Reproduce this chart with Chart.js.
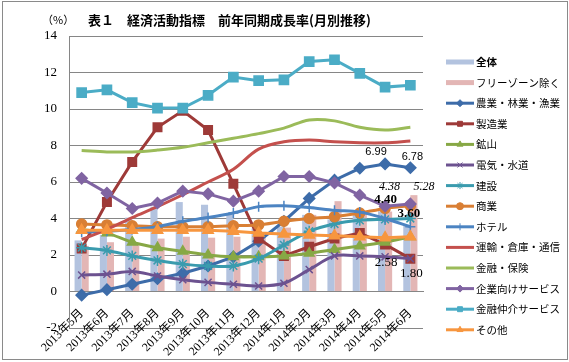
<!DOCTYPE html>
<html>
<head>
<meta charset="utf-8">
<script src="https://cdn.jsdelivr.net/npm/chart.js@4/dist/chart.umd.min.js"></script>
<style>
  html, body { margin: 0; padding: 0; background: #fff; }
</style>
</head>
<body>
<canvas id="chart" width="569" height="362"></canvas>
<script>
const months = ["2013年5月", "2013年6月", "2013年7月", "2013年8月", "2013年9月", "2013年10月", "2013年11月",
  "2013年12月", "2014年1月", "2014年2月", "2014年3月", "2014年4月", "2014年5月", "2014年6月"];

// bars
const total = [2.8, 3.1, 4.05, 4.65, 4.9, 4.75, 4.2, 3.45, 3.55, 4.2, 3.95, 4.2, 4.40, 3.60];
const exFreeZone = [2.5, 2.7, 2.6, 2.9, 3.0, 2.95, 3.0, 3.2, 3.5, 4.2, 4.95, 4.3, 4.38, 5.28];

// lines
const agriculture = [-0.2, 0.1, 0.4, 0.7, 1.0, 1.4, 1.9, 2.75, 3.85, 5.1, 6.1, 6.75, 6.99, 6.78];
const manufacturing = [2.35, 4.9, 7.1, 9.0, 9.9, 8.85, 5.9, 2.9, 1.95, 2.45, 2.9, 3.2, 2.58, 1.80];
const mining = [3.4, 3.2, 2.7, 2.4, 2.2, 2.0, 1.9, 1.9, 1.95, 2.1, 2.3, 2.5, 2.7, 3.0];
const utilities = [0.9, 0.95, 1.1, 0.85, 0.65, 0.5, 0.4, 0.3, 0.45, 1.2, 1.95, 1.95, 1.9, 1.8];
const construction = [2.4, 2.25, 1.95, 1.7, 1.5, 1.4, 1.4, 1.8, 2.55, 3.3, 3.7, 3.9, 3.95, 4.0];
const commerce = [3.7, 3.65, 3.6, 3.55, 3.55, 3.55, 3.6, 3.65, 3.85, 4.0, 4.1, 4.3, 4.55, 4.7];
const hotels = [3.25, 3.3, 3.4, 3.55, 3.85, 4.05, 4.3, 4.65, 4.7, 4.6, 4.45, 4.35, 4.0, 3.55];
const transport = [2.85, 3.4, 4.05, 4.65, 5.3, 6.0, 6.7, 7.8, 8.2, 8.3, 8.2, 8.15, 8.15, 8.25];
const financeInsurance = [7.72, 7.65, 7.65, 7.75, 7.9, 8.15, 8.4, 8.65, 8.95, 9.4, 9.35, 9.0, 8.85, 9.0];
const businessServices = [6.2, 5.4, 4.55, 4.85, 5.5, 5.35, 4.95, 5.5, 6.3, 6.3, 5.95, 5.28, 4.67, 4.8];
const finIntermediation = [10.9, 11.05, 10.35, 10.05, 10.05, 10.75, 11.75, 11.55, 11.6, 12.6, 12.7, 11.95, 11.2, 11.3];
const others = [3.35, 3.35, 3.35, 3.35, 3.35, 3.35, 3.3, 3.2, 3.15, 3.1, 3.05, 3.0, 2.95, 3.0];

const yTicks = [-2, 0, 2, 4, 6, 8, 10, 12, 14];

const barSeries = [
  { label: "全体", data: total, color: "#B3C3DF" },
  { label: "フリーゾーン除く", data: exFreeZone, color: "#E3B6B5" }
];

const lineSeries = [
  { label: "農業・林業・漁業", data: agriculture, color: "#3D6CA9", point: "rectRot", r: 5.5, t: 0 },
  { label: "製造業", data: manufacturing, color: "#9E3A38", point: "rect", r: 6, t: 0 },
  { label: "鉱山", data: mining, color: "#87A845", point: "triangle", r: 5.5, t: 0.3 },
  { label: "電気・水道", data: utilities, color: "#6C5290", point: "crossRot", r: 5, t: 0.3 },
  { label: "建設", data: construction, color: "#3A9BAE", point: "star", r: 5.5, t: 0.3 },
  { label: "商業", data: commerce, color: "#D97F34", point: "circle", r: 5, t: 0.2 },
  { label: "ホテル", data: hotels, color: "#4C84C2", point: "cross", r: 5, t: 0.3 },
  { label: "運輸・倉庫・通信", data: transport, color: "#C4504D", point: false, r: 0, t: 0.35 },
  { label: "金融・保険", data: financeInsurance, color: "#9BBB59", point: false, r: 0, t: 0.35 },
  { label: "企業向けサービス", data: businessServices, color: "#8064A2", point: "rectRot", r: 5.5, t: 0 },
  { label: "金融仲介サービス", data: finIntermediation, color: "#4BACC6", point: "rect", r: 6.5, t: 0 },
  { label: "その他", data: others, color: "#F7963F", point: "triangle", r: 6, t: 0 }
];

const datasets = barSeries.map(s => ({
  type: "bar",
  label: s.label,
  data: s.data,
  backgroundColor: s.color,
  borderWidth: 0,
  categoryPercentage: 0.56,
  barPercentage: 1.0,
  order: 100
})).concat(lineSeries.map((s, i) => ({
  type: "line",
  label: s.label,
  data: s.data,
  borderColor: s.color,
  backgroundColor: s.color,
  borderWidth: 3,
  tension: s.t,
  pointStyle: s.point || "circle",
  pointRadius: s.r,
  pointBorderWidth: 1.5,
  pointBorderColor: s.color,
  pointBackgroundColor: s.color,
  fill: false,
  order: 50 - i
})));

// value labels hung on data points (ds = dataset index, i = month index)
const pointLabels = [
  { text: "6.99", ds: 2, i: 12, dx: -9, dy: -12, font: '11px "Liberation Sans"' },
  { text: "6.78", ds: 2, i: 13, dx: 2, dy: -11, font: '11px "Liberation Sans"' },
  { text: "4.38", ds: 1, i: 12, dx: 1, dy: -25, font: 'italic 12px "Liberation Serif"' },
  { text: "5.28", ds: 1, i: 13, dx: 10, dy: -8, font: 'italic 12px "Liberation Serif"' },
  { text: "4.40", ds: 0, i: 12, dx: 4, dy: -12, font: 'bold 13px "Liberation Serif"' },
  { text: "3.60", ds: 0, i: 13, dx: 2, dy: -12, font: 'bold 13px "Liberation Serif"' },
  { text: "2.58", ds: 3, i: 12, dx: 1, dy: 18, font: '13px "Liberation Serif"' },
  { text: "1.80", ds: 3, i: 13, dx: 1, dy: 15, font: '13px "Liberation Serif"' }
];

const frame = {
  id: "frame",
  beforeDraw(chart) {
    const ctx = chart.ctx;
    ctx.save();
    ctx.fillStyle = "#fff";
    ctx.fillRect(0, 0, chart.width, chart.height);
    ctx.strokeStyle = "#8a8a8a";
    ctx.lineWidth = 1;
    ctx.strokeRect(2.5, 1.5, chart.width - 4, chart.height - 4);
    ctx.fillStyle = "#000";
    ctx.textBaseline = "middle";
    ctx.font = '11px "Noto Sans CJK JP"';
    ctx.fillText("（%）", 42, 20);
    ctx.font = 'bold 13px "Noto Sans CJK JP"';
    ctx.fillText("表１　経済活動指標　前年同期成長率(月別推移)", 88, 20);
    ctx.restore();
  },
  afterDatasetsDraw(chart) {
    const ctx = chart.ctx;
    ctx.save();
    ctx.fillStyle = "#000";
    ctx.textAlign = "center";
    ctx.textBaseline = "middle";
    pointLabels.forEach(l => {
      const el = chart.getDatasetMeta(l.ds).data[l.i];
      ctx.font = l.font;
      ctx.fillText(l.text, el.x + l.dx, el.y + l.dy);
    });
    ctx.restore();
  },
  afterDraw(chart) {
    // legend on the right, icon + label per dataset
    const ctx = chart.ctx;
    const x0 = chart.chartArea.right + 23;
    const y0 = 62, step = 20.6;
    ctx.save();
    ctx.textBaseline = "middle";
    chart.data.datasets.forEach((ds, k) => {
      const y = y0 + k * step;
      if (ds.type === "bar") {
        ctx.fillStyle = ds.backgroundColor;
        ctx.fillRect(x0, y - 2.5, 28, 5);
      } else {
        ctx.strokeStyle = ds.borderColor;
        ctx.lineWidth = 3;
        ctx.beginPath();
        ctx.moveTo(x0, y);
        ctx.lineTo(x0 + 28, y);
        ctx.stroke();
        if (ds.pointRadius > 0) {
          ctx.fillStyle = ds.borderColor;
          ctx.lineWidth = 1;
          Chart.helpers.drawPoint(ctx, { pointStyle: ds.pointStyle, radius: 3.5, borderWidth: 1, rotation: 0 }, x0 + 14, y);
        }
      }
      ctx.fillStyle = "#000";
      ctx.font = (k === 0 ? "bold " : "") + '10.5px "Noto Sans CJK JP"';
      ctx.fillText(ds.label, x0 + 30, y);
    });
    ctx.restore();
  }
};

new Chart(document.getElementById("chart"), {
  type: "bar",
  data: { labels: months, datasets: datasets },
  options: {
    responsive: false,
    animation: false,
    layout: { padding: { top: 36, right: 146, bottom: 34, left: 0 } },
    plugins: { legend: { display: false }, tooltip: { enabled: false }, title: { display: false } },
    scales: {
      x: {
        position: { y: 0 },
        grid: { display: false },
        border: { display: true, color: "#868686" },
        ticks: {
          autoSkip: false, maxRotation: 45, minRotation: 45, padding: 7, color: "#000",
          font: { family: '"Liberation Serif", "Noto Sans CJK JP"', size: 12 }
        }
      },
      y: {
        min: -2, max: 14,
        afterBuildTicks(scale) { scale.ticks = yTicks.map(v => ({ value: v })); },
        afterFit(scale) { scale.width = 69; },
        grid: { color: "#868686", drawTicks: false },
        border: { display: true, color: "#868686" },
        ticks: { padding: 12, color: "#000", font: { family: '"Liberation Serif"', size: 13 } }
      }
    }
  },
  plugins: [frame]
});
</script>
</body>
</html>
